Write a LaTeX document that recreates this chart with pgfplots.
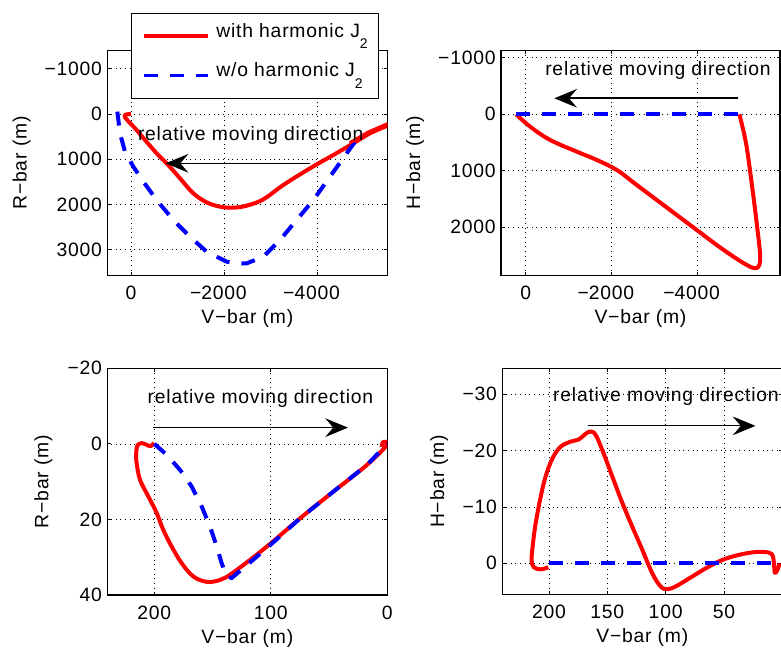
\documentclass[border=0pt]{standalone}
\usepackage{fontspec}
\setmainfont{Liberation Sans}[LetterSpace=4.0]
\usepackage{pgfplots}
\pgfplotsset{compat=1.18}
\usetikzlibrary{arrows.meta}
\newcommand\F{\fontsize{14.5}{17}\selectfont}
\newcommand\sub[1]{\raisebox{-8.8pt}{\fontsize{10.5}{10.5}\selectfont #1}}
\pgfplotsset{
  mat/.style={
    scale only axis, width=210pt,
    x dir=reverse, y dir=reverse,
    axis line style={line width=0.9pt},
    tick align=inside, tick pos=both,
    major tick length=2.5pt,
    tick style={black, line width=0.6pt},
    grid=major,
    major grid style={black, line width=0.55pt, dash pattern=on 0.7pt off 2.8pt},
    tick label style={font=\F},
    label style={font=\F},
    xticklabel style={yshift=-4.5pt},
    yticklabel style={xshift=-0.5pt},
    xlabel style={at={(axis description cs:0.5,0)}, anchor=center, yshift=-32.3pt},
    scaled ticks=false,
    clip=true,
  },
  redl/.style={red, line width=3pt, smooth, tension=0.6, line join=round},
  bluel/.style={blue, line width=3pt, dash pattern=on 10.5pt off 9pt},
}
\tikzset{
  ann/.style={font=\F, inner sep=0pt},
  arr/.style={-{Stealth[length=17pt,width=14pt,inset=6pt]}},
}
\begin{document}
\begin{tikzpicture}
\path[use as bounding box] (0,0) rectangle (585.75pt,486.75pt);
% ---------------- top left
\begin{axis}[mat, at={(80.48pt,280.28pt)}, anchor=south west, height=168.6pt,
  xmin=-5506, xmax=509, ymin=-1405, ymax=3568,
  xtick={-4000,-2000,0}, xticklabels={\llap{−}4000,\llap{−}2000,0},
  ytick={-1000,0,1000,2000,3000}, yticklabels={−1000,0,1000,2000,3000},
  xlabel={V−bar (m)}, ylabel={R−bar (m)},
  ylabel style={at={(axis description cs:-0.3057,0.5)}, anchor=center},
  legend style={at={(axis description cs:0.0846,1.168)}, anchor=north west,
    draw=black, line width=0.9pt, fill=white, inner xsep=8pt, inner ysep=3.5pt,
    row sep=2.5pt, column sep=5pt, cells={anchor=west},
    nodes={font=\F, inner xsep=0pt, inner ysep=4pt, text height=10.4pt,
      text depth=8.8pt}},
  legend image code/.code={\draw[#1, line width=2.6pt] (0pt,0pt) -- (48pt,0pt);},
]
\addplot[redl] coordinates {(0,0) (100,10) (129,74) (-100,330) (-265,531) (-551,870)
  (-766,1092) (-1053,1423) (-1339,1755) (-1625,1954) (-1912,2050) (-2198,2072)
  (-2484,2028) (-2843,1888) (-3272,1571) (-3845,1202) (-4346,907) (-4776,649)
  (-5134,428) (-5492,266) (-5700,170)};
\addlegendentry{with harmonic J\sub{2}}
\addplot[bluel] coordinates {(294,-52) (236,428) (129,833) (-50,1165) (-265,1497)
  (-551,1903) (-909,2345) (-1267,2714) (-1625,3046) (-2055,3267) (-2300,3310)
  (-2484,3304) (-2843,3157) (-3200,2788) (-3559,2345) (-3917,1903) (-4275,1387)
  (-4633,870) (-4919,465)};
\addlegendentry{w/o harmonic J\sub{2}}
\addplot[red, line width=2.5pt, forget plot] coordinates {(-4700,640) (-5100,400) (-5600,180)};
\node[ann] at (axis cs:-2573,480) {relative moving direction};
\draw[arr, line width=1.2pt] (axis cs:-3845,1091) -- (axis cs:-745,1091);
\end{axis}
% ---------------- top right
\begin{axis}[mat, at={(375.75pt,280.28pt)}, anchor=south west, width=209.25pt, height=168.6pt,
  xmin=-5928, xmax=576, ymin=-1129, ymax=2850,
  xtick={-4000,-2000,0}, xticklabels={\llap{−}4000,\llap{−}2000,0},
  ytick={-1000,0,1000,2000}, yticklabels={−1000,0,1000,2000},
  xlabel={V−bar (m)}, ylabel={H−bar (m)},
  ylabel style={at={(axis description cs:-0.308,0.5)}, anchor=center},
]
\addplot[redl] coordinates {(225,0) (-101,218) (-567,454) (-1189,661) (-1655,808)
  (-2121,985) (-2587,1251) (-3054,1516) (-3520,1782) (-3986,2047) (-4452,2313)
  (-4841,2519) (-5152,2667) (-5346,2726) (-5447,2667) (-5462,2460) (-5385,1929)
  (-5268,1221) (-5136,513) (-4981,0)};
\addplot[bluel] coordinates {(225,0) (-4981,0)};
\node[ann] at (axis cs:-3084,-770) {relative moving direction};
\draw[arr, line width=1.2pt] (axis cs:-4956,-283) -- (axis cs:-667,-283);
\end{axis}
% ---------------- bottom left
\begin{axis}[mat, at={(80.48pt,40.5pt)}, anchor=south west, height=170pt,
  xmin=0, xmax=240.4, ymin=-20, ymax=40,
  xtick={0,100,200}, xticklabels={0,100,200},
  ytick={-20,0,20,40}, yticklabels={−20,0,20,40},
  xlabel={V−bar (m)}, ylabel={R−bar (m)},
  ylabel style={at={(axis description cs:-0.2286,0.5)}, anchor=center},
]
\addplot[redl] coordinates {(200.3,-0.3) (203,0.6) (207,0.2) (211,-0.2) (214.5,0.4)
  (215.6,2.5) (215.2,5.1) (212.3,9.5) (205.2,13.9) (198,18.3) (192.3,22.8)
  (185.1,27.2) (176.5,31.6) (166.5,35.1) (155,36.5) (143.6,36) (132.1,34)
  (103.5,27.2) (74.9,19.7) (46.2,12.6) (17.6,5.6) (0.4,0.3) (3.5,-0.5) (5,0.8)};
\addplot[bluel] coordinates {(200,0) (189.4,2.9) (177.9,6.9) (167.9,11.3) (159.3,16.6)
  (152.2,21.9) (146.4,27.2) (142.2,31.6) (137.9,35.1) (133.6,35.5) (103.5,27.6)
  (74.9,19.7) (46.2,12.6) (17.6,5.6) (0,0)};
\node[ann] at (axis cs:108.9,-11.9) {relative moving direction};
\draw[arr, line width=0.75pt] (axis cs:200.9,-4.3) -- (axis cs:33.8,-4.3);
\end{axis}
% ---------------- bottom right
\begin{axis}[mat, at={(376.73pt,41.03pt)}, anchor=south west, height=169.5pt,
  xmin=0, xmax=240, ymin=-34.62, ymax=5.5,
  xtick={50,100,150,200}, xticklabels={50,100,150,200},
  ytick={-30,-20,-10,0}, yticklabels={−30,−20,−10,0},
  xlabel={V−bar (m)}, ylabel={H−bar (m)},
  ylabel style={at={(axis description cs:-0.226,0.5)}, anchor=center},
]
\addplot[redl] coordinates {(200.6,0.7) (207.1,1.07) (212.9,0.7) (214.9,-0.6)
  (213.7,-3.55) (211.4,-7.1) (207.1,-11.8) (202.9,-15.4) (197.1,-18.6) (190,-20.7)
  (181.4,-21.6) (174.3,-22) (168.6,-23) (164.3,-23.4) (160,-22.8) (154.3,-20.1)
  (145.7,-15.4) (137.1,-10.7) (128.6,-6.5) (120,-2.4) (111.4,1.8) (104.3,4.1)
  (98.6,4.6) (91.4,4.1) (80,2.7) (65.7,0.9) (51.4,-0.6) (37.1,-1.5) (22.9,-2)
  (11.4,-1.9) (8,-1.2) (7.1,0.3) (6.3,1.7) (4.3,1.2) (2.3,0)};
\addplot[bluel] coordinates {(200,0) (4,0)};
\node[ann, anchor=west] at (axis cs:196.6,-29.7) {relative moving direction};
\draw[arr, line width=0.75pt] (axis cs:166.6,-24.4) -- (axis cs:23,-24.4);
\end{axis}
\end{tikzpicture}
\end{document}
